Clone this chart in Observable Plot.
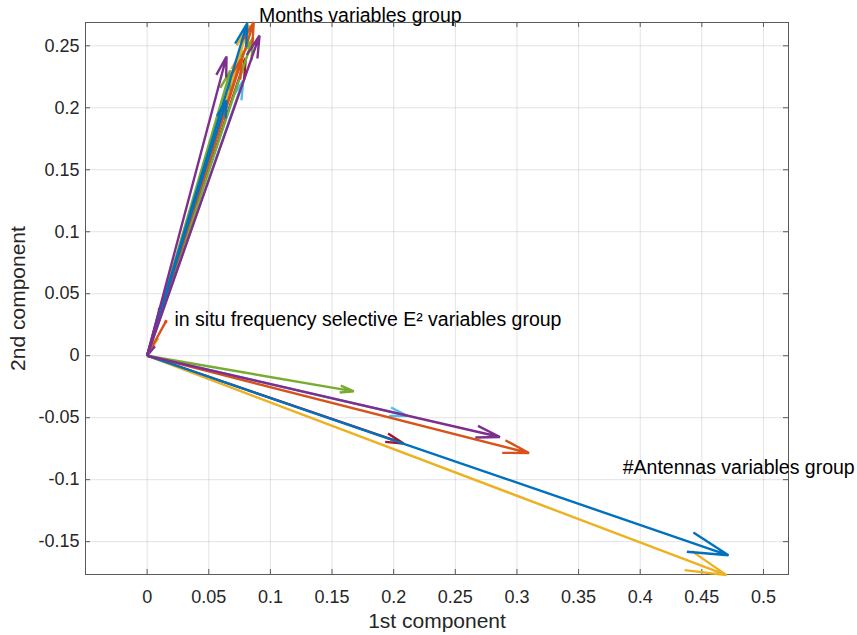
<!DOCTYPE html>
<html><head><meta charset="utf-8">
<script src="https://cdn.jsdelivr.net/npm/d3@7"></script>
<script src="https://cdn.jsdelivr.net/npm/@observablehq/plot@0.6"></script>
<style>body{margin:0;background:#fff;} svg{overflow:visible;display:block}</style>
</head><body><div id="chart"></div>
<script>
// ---- Data ----
const xTicks = [0, 0.05, 0.1, 0.15, 0.2, 0.25, 0.3, 0.35, 0.4, 0.45, 0.5];
const xTickLabels = ["0", "0.05", "0.1", "0.15", "0.2", "0.25", "0.3", "0.35", "0.4", "0.45", "0.5"];
const yTicks = [-0.15, -0.1, -0.05, 0, 0.05, 0.1, 0.15, 0.2, 0.25];
const yTickLabels = ["-0.15", "-0.1", "-0.05", "0", "0.05", "0.1", "0.15", "0.2", "0.25"];

// #Antennas variables group (arrow tips, from origin)
const antennasX = [0.4716, 0.3098, 0.4700, 0.2862, 0.1677, 0.2110, 0.2080];
const antennasY = [-0.1610, -0.0785, -0.1770, -0.0656, -0.0288, -0.0484, -0.0708];
const antennasSeries = [0, 1, 2, 3, 4, 5, 6];

// Months variables group
const monthsX = [0.0812, 0.0865, 0.0825, 0.0912, 0.0860, 0.0780, 0.0800, 0.0644, 0.0766, 0.0774, 0.0644, 0.0676];
const monthsY = [0.2682, 0.2690, 0.2664, 0.2583, 0.2565, 0.2220, 0.2400, 0.2060, 0.2398, 0.2462, 0.2414, 0.2301];
const monthsSeries = [0, 1, 2, 3, 4, 5, 6, 0, 1, 2, 3, 4];

// in situ frequency selective E² variables group
const insituX = [0.0105, 0.0157, 0.0088, 0.0062];
const insituY = [0.0390, 0.0285, 0.0140, 0.0075];
const insituSeries = [0, 1, 2, 3];

const annoText = ["Months variables group", "in situ frequency selective E\u00B2 variables group", "#Antennas variables group"];
const annoX = [0.0907, 0.0222, 0.3858];
const annoY = [0.2742, 0.0288, -0.0906];

const colorOrder = ["#0072BD", "#D95319", "#EDB120", "#7E2F8E", "#77AC30", "#4DBEEE", "#A2142F"];
// stacking order of series (lower drawn first)
const seriesLayer = [5, 4, 2, 6, 3, 0, 1];

// ---- Layout ----
const W = 857, H = 635, mL = 85, mR = 69, mT = 22, mB = 61;
const xDomain = [-0.05, 0.5203], yDomain = [-0.1765, 0.2688];
const plotW = W - mL - mR, plotH = H - mT - mB;
const kx = plotW / (xDomain[1] - xDomain[0]);
const ky = plotH / (yDomain[1] - yDomain[0]);
const sw = 2.4;

function rows(xs, ys, ss) {
  return xs.map((x, i) => ({x, y: ys[i], s: ss[i]})).sort((a, b) => seriesLayer[a.s] - seriesLayer[b.s]);
}
const arrows = [
  ...rows(insituX, insituY, insituSeries),
  ...rows(antennasX, antennasY, antennasSeries),
  ...rows(monthsX, monthsY, monthsSeries)
];

const arrowMarks = arrows.map(d => {
  const L = Math.hypot(d.x * kx, d.y * ky);
  const wing = 0.068 * L;
  return Plot.arrow([d], {
    x1: () => 0, y1: () => 0, x2: "x", y2: "y",
    stroke: colorOrder[d.s], strokeWidth: sw,
    headAngle: 28, headLength: wing * 1.5 / sw,
    strokeLinecap: "butt", strokeLinejoin: "miter", strokeMiterlimit: 4
  });
});

const tickStroke = "#5a5a5a";
const fmtX = d => xTickLabels[xTicks.findIndex(t => Math.abs(t - d) < 1e-9)];
const fmtY = d => yTickLabels[yTicks.findIndex(t => Math.abs(t - d) < 1e-9)];

const chart = Plot.plot({
  width: W, height: H,
  marginLeft: mL, marginRight: mR, marginTop: mT, marginBottom: mB,
  x: {domain: xDomain},
  y: {domain: yDomain},
  style: {fontFamily: "'Liberation Sans', Arial, Helvetica, sans-serif", fontSize: "18px", color: "#262626", background: "white", overflow: "visible"},
  marks: [
    Plot.ruleX(xTicks, {stroke: "#262626", strokeOpacity: 0.13}),
    Plot.ruleY(yTicks, {stroke: "#262626", strokeOpacity: 0.13}),
    Plot.ruleX(xTicks, {stroke: tickStroke, insetTop: plotH - 5}),
    Plot.ruleX(xTicks, {stroke: tickStroke, insetBottom: plotH - 5}),
    Plot.ruleY(yTicks, {stroke: tickStroke, insetRight: plotW - 5}),
    Plot.ruleY(yTicks, {stroke: tickStroke, insetLeft: plotW - 5}),
    Plot.frame({stroke: tickStroke, strokeWidth: 1}),
    Plot.axisX({ticks: xTicks, tickSize: 0, tickPadding: 16, tickFormat: fmtX, label: null, fill: "#262626", fontSize: 18}),
    Plot.axisY({ticks: yTicks, tickSize: 0, tickPadding: 6, tickFormat: fmtY, label: null, fill: "#262626", fontSize: 18}),
    ...arrowMarks,
    Plot.text(annoText, {x: (d, i) => annoX[i], y: (d, i) => annoY[i], text: d => d, textAnchor: "start", fontSize: 19.5, fill: "#000"}),
    Plot.text(["1st component"], {frameAnchor: "bottom", dy: 47, textAnchor: "middle", lineAnchor: "middle", fontSize: 21, fill: "#262626"}),
    Plot.text(["2nd component"], {frameAnchor: "left", dx: -67, rotate: -90, textAnchor: "middle", lineAnchor: "middle", fontSize: 21, fill: "#262626"})
  ]
});
document.getElementById("chart").appendChild(chart);
</script>
</body></html>
